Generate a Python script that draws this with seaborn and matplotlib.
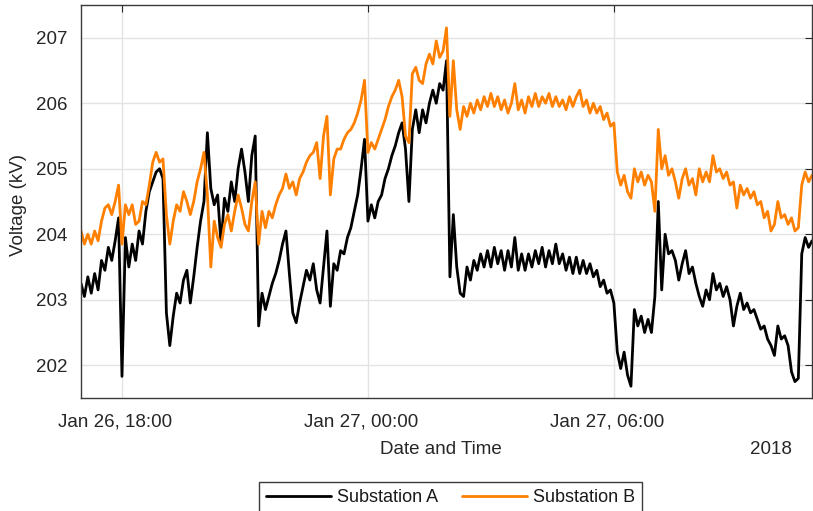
import numpy as np
import pandas as pd
import matplotlib
matplotlib.use("Agg")
import matplotlib.pyplot as plt
import matplotlib.transforms as mtransforms
import seaborn as sns

# Sampling: one reading every 5 minutes starting at 17:00 on Jan 26, 2018
start_time = "2018-01-26 17:00"
sample_step = "5min"

# Bus voltage (kV) at each substation
substation_a = [
    203.25, 203.05, 203.35, 203.10, 203.40, 203.15, 203.60, 203.45, 203.80, 203.60,
    203.90, 204.25, 201.83, 203.95, 203.50, 203.85, 203.60, 204.05, 203.85, 204.35,
    204.65, 204.80, 204.95, 205.00, 204.85, 202.80, 202.30, 202.75, 203.10, 202.95,
    203.30, 203.45, 202.95, 203.35, 203.80, 204.20, 204.50, 205.55, 204.70, 204.45,
    204.60, 203.85, 204.55, 204.35, 204.80, 204.50, 205.00, 205.30, 204.95, 204.50,
    205.20, 205.50, 202.60, 203.10, 202.85, 203.05, 203.25, 203.40, 203.60, 203.85,
    204.05, 203.40, 202.80, 202.65, 202.95, 203.20, 203.45, 203.30, 203.55, 203.15,
    202.95, 203.50, 204.05, 202.90, 203.55, 203.45, 203.75, 203.70, 203.95, 204.10,
    204.35, 204.60, 205.00, 205.45, 204.20, 204.45, 204.25, 204.50, 204.60, 204.85,
    205.00, 205.20, 205.35, 205.55, 205.70, 205.30, 204.50, 205.60, 205.90, 205.55,
    205.90, 205.70, 206.00, 206.20, 206.00, 206.30, 206.20, 206.65, 203.35, 204.30,
    203.50, 203.10, 203.05, 203.50, 203.30, 203.60, 203.45, 203.70, 203.50, 203.75,
    203.50, 203.80, 203.55, 203.75, 203.45, 203.75, 203.50, 203.95, 203.45, 203.70,
    203.45, 203.70, 203.50, 203.75, 203.55, 203.80, 203.50, 203.75, 203.55, 203.85,
    203.55, 203.70, 203.45, 203.65, 203.40, 203.65, 203.40, 203.60, 203.40, 203.55,
    203.35, 203.45, 203.20, 203.30, 203.10, 203.15, 202.95, 202.20, 201.95, 202.20,
    201.85, 201.68, 202.85, 202.60, 202.75, 202.50, 202.70, 202.50, 203.05, 204.50,
    203.15, 204.00, 203.70, 203.75, 203.60, 203.30, 203.55, 203.75, 203.40, 203.50,
    203.25, 203.05, 202.90, 203.15, 203.00, 203.40, 203.15, 203.25, 203.05, 203.20,
    203.00, 202.60, 202.90, 203.10, 202.85, 202.95, 202.80, 202.85, 202.70, 202.55,
    202.60, 202.40, 202.30, 202.15, 202.60, 202.40, 202.45, 202.30, 201.90, 201.75,
    201.80, 203.70, 203.95, 203.80, 203.90,
]
substation_b = [
    204.05, 203.85, 204.00, 203.85, 204.05, 203.90, 204.20, 204.40, 204.45, 204.30,
    204.50, 204.75, 203.85, 204.45, 204.30, 204.45, 204.15, 204.20, 204.50, 204.45,
    204.75, 205.10, 205.25, 205.10, 205.15, 204.30, 203.85, 204.20, 204.45, 204.35,
    204.65, 204.50, 204.30, 204.50, 204.80, 205.00, 205.25, 204.60, 203.50, 204.20,
    203.95, 203.80, 204.15, 204.30, 204.05, 204.35, 204.60, 204.40, 204.15, 204.05,
    204.50, 204.80, 203.85, 204.35, 204.10, 204.35, 204.25, 204.45, 204.60, 204.70,
    204.92, 204.70, 204.80, 204.60, 204.85, 204.95, 205.10, 205.20, 205.25, 205.40,
    204.85, 205.50, 205.80, 204.60, 205.15, 205.30, 205.30, 205.45, 205.55, 205.60,
    205.70, 205.85, 206.05, 206.35, 205.25, 205.40, 205.30, 205.45, 205.60, 205.75,
    205.95, 206.10, 206.20, 206.35, 206.10, 205.50, 205.40, 206.45, 206.55, 206.35,
    206.30, 206.60, 206.75, 206.60, 206.95, 206.70, 206.80, 207.15, 205.80, 206.65,
    205.90, 205.60, 205.95, 205.80, 206.00, 205.85, 206.05, 205.90, 206.10, 205.95,
    206.15, 205.95, 206.10, 205.90, 206.05, 205.85, 206.00, 206.30, 205.90, 206.05,
    205.85, 206.10, 205.95, 206.15, 205.95, 206.10, 206.00, 206.15, 205.95, 206.10,
    205.95, 206.05, 205.90, 206.10, 205.95, 206.10, 206.20, 205.95, 206.05, 205.85,
    206.00, 205.85, 205.95, 205.75, 205.85, 205.65, 205.70, 204.95, 204.75, 204.90,
    204.65, 204.55, 205.00, 204.80, 204.95, 204.75, 204.90, 204.80, 204.35, 205.60,
    205.00, 205.20, 204.90, 205.00, 204.80, 204.55, 204.85, 205.00, 204.75, 204.85,
    204.60, 205.00, 204.80, 204.95, 204.80, 205.20, 204.95, 205.00, 204.85, 204.95,
    204.75, 204.80, 204.40, 204.75, 204.60, 204.70, 204.55, 204.65, 204.45, 204.50,
    204.25, 204.35, 204.05, 204.15, 204.50, 204.25, 204.30, 204.15, 204.25, 204.05,
    204.10, 204.75, 204.95, 204.80, 204.90,
]

series_names = ["Substation A", "Substation B"]
series_colors = ["#000000", "#ff8000"]

y_ticks = [202, 203, 204, 205, 206, 207]
x_tick_times = ["2018-01-26 18:00", "2018-01-27 00:00", "2018-01-27 06:00"]
x_tick_labels = ["Jan 26, 18:00", "Jan 27, 00:00", "Jan 27, 06:00"]
year_label = "2018"

times = pd.date_range(start_time, periods=len(substation_a), freq=sample_step)
frames = []
for name, values in zip(series_names, [substation_a, substation_b]):
    frames.append(pd.DataFrame({"time": times, "voltage": values, "station": name}))
df = pd.concat(frames, ignore_index=True)

sns.set_theme(style="white")
plt.rcParams["font.family"] = ["Liberation Sans", "DejaVu Sans"]

W, H = 813, 511
fig = plt.figure(figsize=(W / 100, H / 100), dpi=100)
ax = fig.add_axes([81 / W, 1 - 398 / H, 731 / W, 393 / H])

sns.lineplot(
    data=df, x="time", y="voltage", hue="station",
    palette=dict(zip(series_names, series_colors)),
    hue_order=series_names, estimator=None, sort=False,
    linewidth=2.0, legend=False, ax=ax,
)

ax.set_xlim(times[0], times[-1])
ax.set_ylim(201.5, 207.5)
ax.set_yticks(y_ticks)
ax.set_yticklabels([str(v) for v in y_ticks])
ax.set_xticks(pd.to_datetime(x_tick_times), x_tick_labels)

axis_color = "#262626"
ax.grid(True, color="#e3e3e3", linewidth=1.0)
ax.set_axisbelow(True)
for side in ["left", "right", "top", "bottom"]:
    ax.spines[side].set_visible(True)
    ax.spines[side].set_color("#3a3a3a")
    ax.spines[side].set_linewidth(1.0)

ax.tick_params(axis="both", direction="in", length=5, width=0.8,
               top=True, right=True, colors=axis_color, labelsize=13.5)
ax.tick_params(axis="x", pad=11)
ax.tick_params(axis="y", pad=10)

# MATLAB-style datetime labels sit a little left of their ticks
shift = mtransforms.ScaledTranslation(-6.5 / 100, 0, fig.dpi_scale_trans)
for lbl in ax.get_xticklabels():
    lbl.set_transform(lbl.get_transform() + shift)

ax.set_xlabel("Date and Time", fontsize=13.5, color=axis_color)
ax.xaxis.set_label_coords((441 - 81) / 731, (398 - 454.3) / 393)
ax.xaxis.label.set_verticalalignment("baseline")
ax.text((771 - 81) / 731, (398 - 454.3) / 393, year_label, transform=ax.transAxes,
        ha="center", va="baseline", fontsize=13.5, color=axis_color)

ax.set_ylabel("Voltage (kV)", fontsize=13.5, color=axis_color)
ax.yaxis.set_label_coords((26.6 - 81) / 731, (398 - 205) / 393)

for line, name in zip(ax.get_lines(), series_names):
    line.set_label(name)

leg = fig.legend(
    handles=ax.get_lines()[:2], labels=series_names,
    loc="upper center", bbox_to_anchor=(450.5 / W, 1 - 481.7 / H),
    ncol=2, fontsize=13, frameon=True, fancybox=False, framealpha=1,
    edgecolor="#3a3a3a", handlelength=3.6, handletextpad=0.35,
    columnspacing=1.3, borderpad=0.4, borderaxespad=0,
)
leg.get_frame().set_linewidth(1.0)
for t in leg.get_texts():
    t.set_color("#1a1a1a")
for h in leg.get_lines():
    h.set_linewidth(2.0)

fig.savefig("out.png", dpi=100)
